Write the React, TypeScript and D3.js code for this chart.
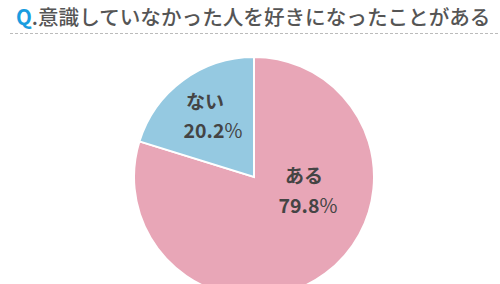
import React from "react";
import * as d3 from "d3";

const categories = ["ある", "ない"];
const values = [79.8, 20.2];
const colors = ["#e8a6b7", "#95c9e1"];
const titleQ = "Q";
const titleText = ".意識していなかった人を好きになったことがある";

export default function App() {
  const W = 500, H = 284;
  const cx = 254, cy = 177, r = 120;
  const pie = d3.pie<number>().sort(null).startAngle(0).endAngle(2 * Math.PI);
  const arcs = pie(values);
  const arc = d3.arc<d3.PieArcDatum<number>>().innerRadius(0).outerRadius(r);
  const namePos = [
    [50, 6],
    [-49, -68],
  ];
  const valPos = [
    [54, 36],
    [-41, -39],
  ];
  const font = "'Noto Sans CJK JP', sans-serif";
  return (
    <svg width={W} height={H} style={{ position: "absolute", left: 0, top: 0, background: "#fff" }}>
      <text x={16} y={25} fontFamily={font} fontSize={20.6} fontWeight={500} fill="#555">
        <tspan fill="#1a9de0" fontWeight={700}>{titleQ}</tspan>
        <tspan>{titleText}</tspan>
      </text>
      <line x1={10} x2={500} y1={33.5} y2={33.5} stroke="#bbb" strokeWidth={1} strokeDasharray="3,2" />
      <g transform={`translate(${cx},${cy})`}>
        {arcs.map((a, i) => (
          <path key={i} d={arc(a) || ""} fill={colors[i]} stroke="#fff" strokeWidth={2} />
        ))}
        {arcs.map((a, i) => (
          <g key={"t" + i} fontFamily={font} fill="#444" textAnchor="middle">
            <text x={namePos[i][0]} y={namePos[i][1]} fontSize={19} fontWeight={700}>
              {categories[i]}
            </text>
            <text x={valPos[i][0]} y={valPos[i][1]} fontSize={19.5} fontWeight={700}>
              {values[i].toFixed(1)}
              <tspan fontWeight={400}>%</tspan>
            </text>
          </g>
        ))}
      </g>
    </svg>
  );
}
